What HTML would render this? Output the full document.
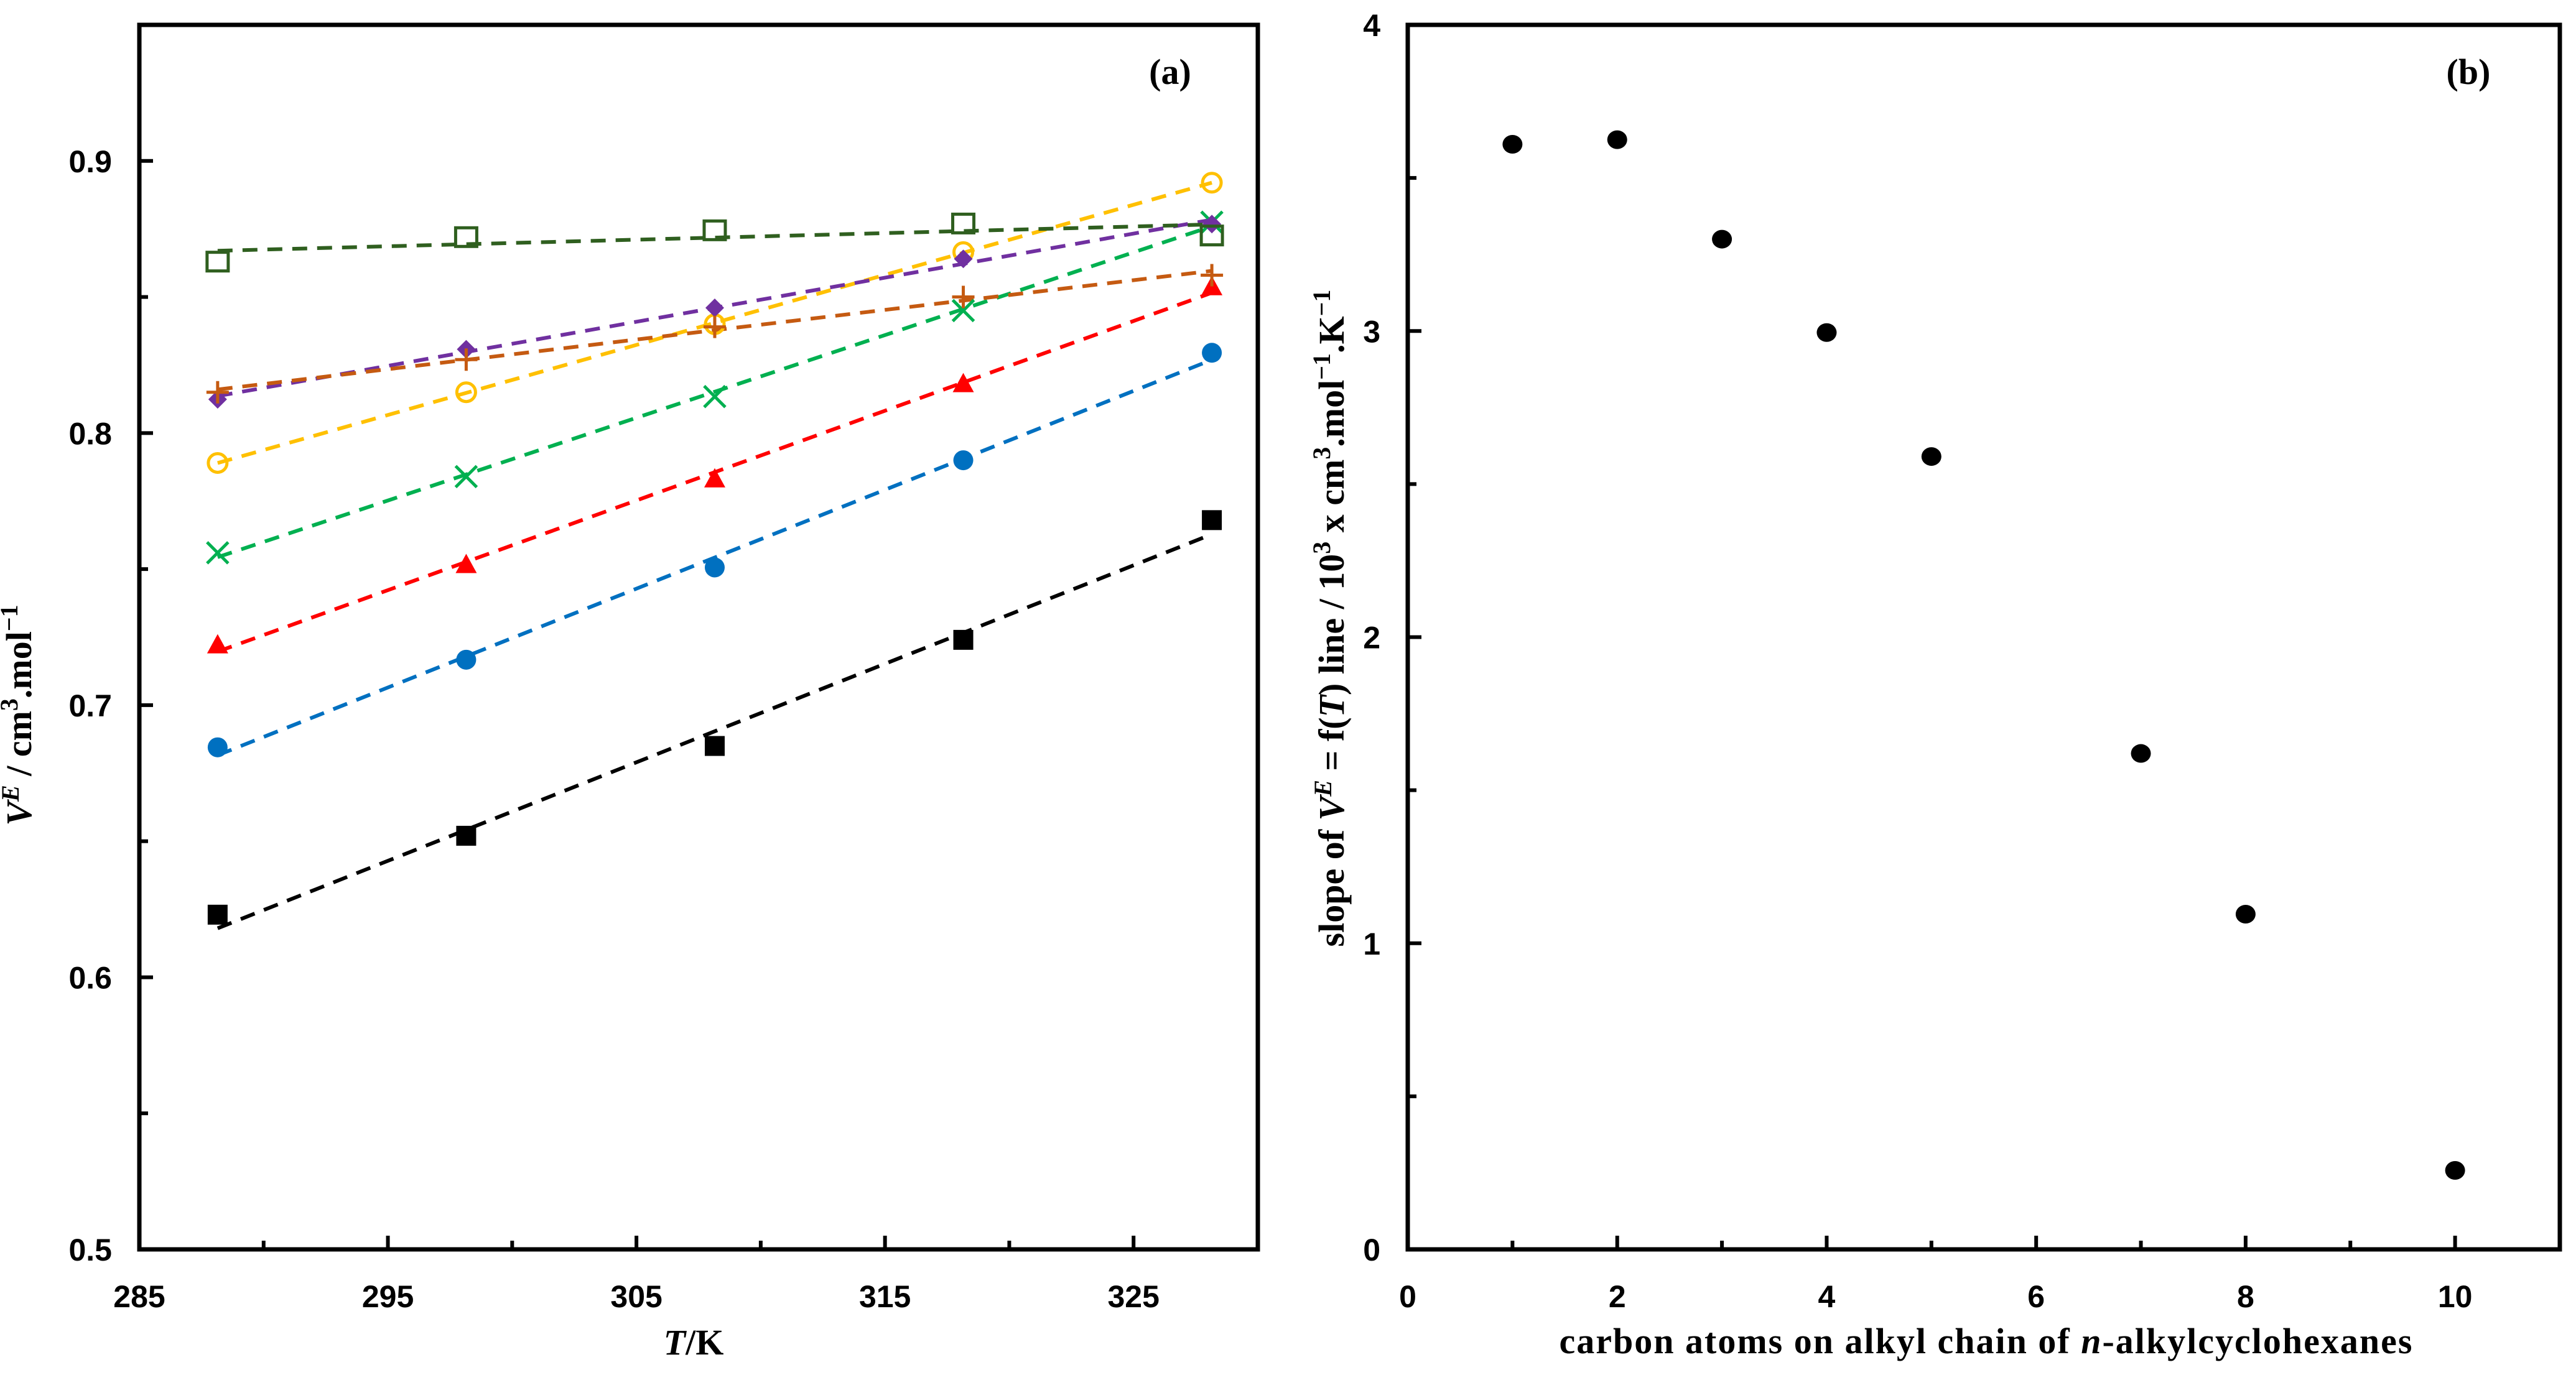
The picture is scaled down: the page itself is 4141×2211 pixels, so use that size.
<!DOCTYPE html>
<html><head><meta charset="utf-8">
<style>
html,body{margin:0;padding:0;background:#fff;}
svg{display:block;}
.tick{font-family:"Liberation Sans",sans-serif;font-weight:bold;font-size:50px;fill:#000;}
.ttl{font-family:"Liberation Serif",serif;font-weight:bold;font-size:58px;fill:#000;}
</style></head>
<body>
<svg id="chart" width="4141" height="2211" viewBox="0 0 4141 2211" xmlns="http://www.w3.org/2000/svg">
<rect x="0" y="0" width="4141" height="2211" fill="#fff"/>
<g id="pa"></g>
<g id="pb"></g>
<text class="ttl" x="1881" y="135" text-anchor="middle" font-size="66">(a)</text>
<text class="ttl" x="3968" y="135" text-anchor="middle" font-size="66">(b)</text>
<text class="ttl" x="1115" y="2178" text-anchor="middle" font-size="62"><tspan font-style="italic">T</tspan>/K</text>
<text class="ttl" transform="translate(50,1150) rotate(-90)" text-anchor="middle" font-size="60"><tspan font-style="italic">V</tspan><tspan font-style="italic" font-size="40" dy="-20">E</tspan><tspan dy="20"> / cm</tspan><tspan font-size="40" dy="-22">3</tspan><tspan dy="22">.mol</tspan><tspan font-size="40" dy="-22">−1</tspan></text>
<text class="ttl" x="3193" y="2176" text-anchor="middle" font-size="58" letter-spacing="2">carbon atoms on alkyl chain of <tspan font-style="italic">n</tspan>-alkylcyclohexanes</text>
<text class="ttl" transform="translate(2160,994) rotate(-90)" text-anchor="middle" font-size="58">slope of <tspan font-style="italic">V</tspan><tspan font-style="italic" font-size="40" dy="-20">E</tspan><tspan dy="20"> = f(</tspan><tspan font-style="italic">T</tspan>) line / 10<tspan font-size="40" dy="-22">3</tspan><tspan dy="22"> x cm</tspan><tspan font-size="40" dy="-22">3</tspan><tspan dy="22">.mol</tspan><tspan font-size="40" dy="-22">−1</tspan><tspan dy="22">.K</tspan><tspan font-size="40" dy="-22">−1</tspan></text>
</svg>
<script>
// ---- Panel (a) data ----
const temps = [288.15, 298.15, 308.15, 318.15, 328.15];
const sBlackSquare = [0.623, 0.652, 0.685, 0.724, 0.768];
const sBlueCircle = [0.6845, 0.7167, 0.7506, 0.790, 0.8295];
const sRedTriangle = [0.722, 0.7515, 0.783, 0.818, 0.8536];
const sGreenCross = [0.756, 0.784, 0.8134, 0.845, 0.8775];
const sYellowOpenCircle = [0.789, 0.815, 0.840, 0.8665, 0.892];
const sPurpleDiamond = [0.8124, 0.8308, 0.846, 0.864, 0.8768];
const sBrownPlus = [0.815, 0.827, 0.839, 0.850, 0.858];
const sDarkGreenOpenSquare = [0.863, 0.872, 0.8745, 0.877, 0.8726];
const xTicksA = [285, 295, 305, 315, 325];
const yTicksA = [0.5, 0.6, 0.7, 0.8, 0.9];
// ---- Panel (b) data ----
const carbons = [1, 2, 3, 4, 5, 7, 8, 10];
const slopes = [3.61, 3.625, 3.30, 2.995, 2.59, 1.62, 1.095, 0.258];
const xTicksB = [0, 2, 4, 6, 8, 10];
const yTicksB = [0, 1, 2, 3, 4];

const NS = "http://www.w3.org/2000/svg";
function mk(parent, tag, attrs) {
  const e = document.createElementNS(NS, tag);
  for (const k in attrs) e.setAttribute(k, attrs[k]);
  parent.appendChild(e);
  return e;
}

const A = {l:224, r:2022, t:40, b:2009, x0:285, x1:330, y0:0.5, y1:0.95};
const B = {l:2263, r:4115, t:40, b:2009, x0:0, x1:11, y0:0, y1:4};
function sx(P, v){ return P.l + (v - P.x0) / (P.x1 - P.x0) * (P.r - P.l); }
function sy(P, v){ return P.b - (v - P.y0) / (P.y1 - P.y0) * (P.b - P.t); }

function drawAxes(g, P, xMajor, xMinorStep, yMajor, yMinorStep, xFmt, yFmt, tag) {
  for (let v = P.x0; v <= P.x1 + 1e-9; v += xMinorStep) {
    const isMajor = xMajor.some(m => Math.abs(m - v) < 1e-6);
    const X = sx(P, v);
    const t = mk(g, "line", {x1:X, x2:X, y1:P.b, y2:P.b - (isMajor ? 22 : 14), stroke:"#000", "stroke-width":6});
    
    
  }
  for (let v = P.y0; v <= P.y1 + 1e-9; v += yMinorStep) {
    const isMajor = yMajor.some(m => Math.abs(m - v) < 1e-6);
    const Y = sy(P, v);
    const t = mk(g, "line", {x1:P.l, x2:P.l + (isMajor ? 22 : 14), y1:Y, y2:Y, stroke:"#000", "stroke-width":6});
    
    
  }
  const box = mk(g, "rect", {x:P.l, y:P.t, width:P.r - P.l, height:P.b - P.t, fill:"none", stroke:"#000", "stroke-width":7});
  
  
  xMajor.forEach(v => {
    const t = mk(g, "text", {x:sx(P, v), y:P.b + 93, "text-anchor":"middle", class:"tick"});
    t.textContent = xFmt(v);
    
    
  });
  yMajor.forEach(v => {
    const t = mk(g, "text", {x:P.l - 44, y:sy(P, v) + 18, "text-anchor":"end", class:"tick"});
    t.textContent = yFmt(v);
    
    
  });
}

const ga = document.getElementById("pa");
const gb = document.getElementById("pb");
drawAxes(ga, A, xTicksA, 5, yTicksA, 0.05, v => String(v), v => v.toFixed(1), "a");
drawAxes(gb, B, xTicksB, 1, yTicksB, 0.5, v => String(v), v => String(v), "b");

function fit(xs, ys) {
  const n = xs.length;
  const mx = xs.reduce((a, b) => a + b, 0) / n, my = ys.reduce((a, b) => a + b, 0) / n;
  let num = 0, den = 0;
  for (let i = 0; i < n; i++) { num += (xs[i] - mx) * (ys[i] - my); den += (xs[i] - mx) ** 2; }
  const m = num / den;
  return [m, my - m * mx];
}

const seriesList = [
  {name:"black-square", vals:sBlackSquare, color:"#000000", marker:"square"},
  {name:"blue-circle", vals:sBlueCircle, color:"#0070C0", marker:"circle"},
  {name:"red-triangle", vals:sRedTriangle, color:"#FF0000", marker:"triangle"},
  {name:"green-cross", vals:sGreenCross, color:"#00B050", marker:"cross"},
  {name:"yellow-open-circle", vals:sYellowOpenCircle, color:"#FFC000", marker:"ocircle"},
  {name:"purple-diamond", vals:sPurpleDiamond, color:"#7030A0", marker:"diamond"},
  {name:"brown-plus", vals:sBrownPlus, color:"#C55A11", marker:"plus"},
  {name:"darkgreen-open-square", vals:sDarkGreenOpenSquare, color:"#2F5F1F", marker:"osquare"}
];

seriesList.forEach(s => {
  const [m, c] = fit(temps, s.vals);
  const xa = temps[0], xb = temps[temps.length - 1];
  const ln = mk(ga, "line", {x1:sx(A, xa), y1:sy(A, m * xa + c), x2:sx(A, xb), y2:sy(A, m * xb + c),
    stroke:s.color, "stroke-width":6, "stroke-dasharray":"24 16"});
  
  
});

function marker(g, type, X, Y, col) {
  let e;
  if (type === "square") e = mk(g, "rect", {x:X - 16, y:Y - 16, width:32, height:32, fill:col});
  else if (type === "osquare") e = mk(g, "rect", {x:X - 17, y:Y - 15, width:34, height:30, fill:"none", stroke:col, "stroke-width":5});
  else if (type === "circle") e = mk(g, "circle", {cx:X, cy:Y, r:16, fill:col});
  else if (type === "ocircle") e = mk(g, "circle", {cx:X, cy:Y, r:15, fill:"none", stroke:col, "stroke-width":5});
  else if (type === "triangle") e = mk(g, "polygon", {points:`${X},${Y - 18} ${X + 17},${Y + 13} ${X - 17},${Y + 13}`, fill:col});
  else if (type === "diamond") e = mk(g, "polygon", {points:`${X},${Y - 15} ${X + 15},${Y} ${X},${Y + 15} ${X - 15},${Y}`, fill:col});
  else if (type === "cross") e = mk(g, "path", {d:`M${X - 17},${Y - 17}L${X + 17},${Y + 17}M${X + 17},${Y - 17}L${X - 17},${Y + 17}`, stroke:col, "stroke-width":5, fill:"none"});
  else if (type === "plus") e = mk(g, "path", {d:`M${X - 18},${Y}L${X + 18},${Y}M${X},${Y - 18}L${X},${Y + 18}`, stroke:col, "stroke-width":5, fill:"none"});
  return e;
}

seriesList.forEach(s => {
  s.vals.forEach((v, i) => {
    const e = marker(ga, s.marker, sx(A, temps[i]), sy(A, v), s.color);
    
    
  });
});

carbons.forEach((c, i) => {
  const e = mk(gb, "ellipse", {cx:sx(B, c), cy:sy(B, slopes[i]), rx:16, ry:15, fill:"#000"});
  
  
});
</script>
</body></html>
